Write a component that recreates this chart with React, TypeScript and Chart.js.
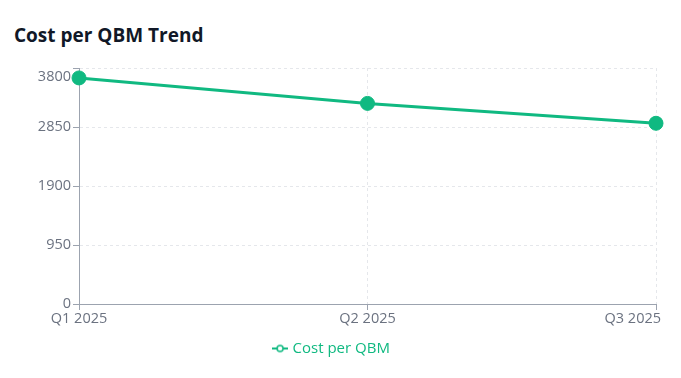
import React, { useEffect, useRef } from "react";
import { Chart, registerables } from "chart.js";

Chart.register(...registerables);

const categories = ["Q1 2025", "Q2 2025", "Q3 2025"];
const costPerQbm = [3640, 3230, 2910];
const yTickValues = [0, 950, 1900, 2850, 3800];
const seriesName = "Cost per QBM";
const titleText = "Cost per QBM Trend";

const GREEN = "#10b981";
const LABEL_GRAY = "#6b7280";
const AXIS_GRAY = "#9ca3af";
const GRID_GRAY = "#e5e7eb";
const FONT = '"Open Sans", "Noto Sans", sans-serif';

function makeLegendIcon(): HTMLCanvasElement {
  const c = document.createElement("canvas");
  c.width = 16;
  c.height = 10;
  const g = c.getContext("2d")!;
  g.strokeStyle = GREEN;
  g.lineWidth = 2;
  g.beginPath();
  g.moveTo(0, 5);
  g.lineTo(16, 5);
  g.stroke();
  g.fillStyle = "#fff";
  g.lineWidth = 1.5;
  g.beginPath();
  g.arc(8, 5, 3, 0, Math.PI * 2);
  g.fill();
  g.stroke();
  return c;
}

const tickLabelsPlugin = {
  id: "tickLabels",
  afterDraw(chart: any) {
    const { ctx, chartArea } = chart;
    const xs = chart.scales.x;
    const ys = chart.scales.y;
    ctx.save();
    ctx.font = `14.5px ${FONT}`;
    ctx.fillStyle = LABEL_GRAY;
    ctx.textBaseline = "middle";
    ctx.textAlign = "left";
    xs.ticks.forEach((t: any, i: number) => {
      const label = String(xs.getLabelForValue(t.value));
      const px = xs.getPixelForTick(i);
      const w = ctx.measureText(label).width;
      let left = px - w / 2;
      left = Math.min(left, chart.width - 20 - w);
      left = Math.max(left, 0);
      ctx.fillText(label, left, chartArea.bottom + 15);
    });
    ctx.textAlign = "right";
    ys.ticks.forEach((t: any) => {
      const py = ys.getPixelForValue(t.value);
      const cy = Math.max(py, chartArea.top + 9);
      ctx.fillText(String(t.value), chartArea.left - 8, cy);
    });
    ctx.restore();
  },
};

export default function App() {
  const ref = useRef<HTMLCanvasElement | null>(null);

  useEffect(() => {
    if (!ref.current) return;
    const icon = makeLegendIcon();
    const chart = new Chart(ref.current, {
      type: "line",
      data: {
        labels: categories,
        datasets: [
          {
            label: seriesName,
            data: costPerQbm,
            borderColor: GREEN,
            backgroundColor: GREEN,
            borderWidth: 3,
            pointRadius: 7,
            pointHoverRadius: 7,
            pointBorderWidth: 1,
            pointBackgroundColor: GREEN,
            pointBorderColor: GREEN,
            tension: 0,
            fill: false,
            clip: false as any,
          },
        ],
      },
      options: {
        animation: false,
        responsive: true,
        maintainAspectRatio: false,
        layout: { padding: { top: 18, right: 25, bottom: 12, left: 9 } },
        scales: {
          x: {
            offset: false,
            ticks: { display: false },
            grid: {
              color: GRID_GRAY,
              tickColor: AXIS_GRAY,
              tickLength: 6,
              tickBorderDash: [],
              drawTicks: true,
            } as any,
            border: { color: AXIS_GRAY, width: 1, dash: [3, 3] },
            afterFit: (s: any) => {
              s.height = 24;
            },
          },
          y: {
            min: 0,
            max: 3800,
            ticks: { display: false },
            afterBuildTicks: (s: any) => {
              s.ticks = yTickValues.map((v) => ({ value: v }));
            },
            grid: {
              color: GRID_GRAY,
              tickColor: AXIS_GRAY,
              tickLength: 6,
              tickBorderDash: [],
              drawTicks: true,
            } as any,
            border: { color: AXIS_GRAY, width: 1, dash: [3, 3] },
            afterFit: (s: any) => {
              s.width = 70;
            },
          },
        },
        plugins: {
          title: { display: false },
          tooltip: { enabled: false },
          legend: {
            display: true,
            position: "bottom",
            labels: {
              usePointStyle: true,
              pointStyle: icon as any,
              pointStyleWidth: 10,
              color: GREEN,
              padding: 13,
              font: { size: 15, family: FONT },
            },
          },
        },
      },
      plugins: [tickLabelsPlugin],
    });
    return () => chart.destroy();
  }, []);

  return (
    <div
      style={{
        position: "fixed",
        left: 0,
        top: 0,
        width: 681,
        height: 378,
        background: "#fff",
      }}
    >
      <div
        style={{
          position: "absolute",
          left: 14,
          top: 22,
          font: `bold 19px ${FONT}`,
          color: "#111827",
          whiteSpace: "nowrap",
        }}
      >
        {titleText}
      </div>
      <div
        style={{
          position: "absolute",
          left: 0,
          top: 50,
          width: 681,
          height: 328,
        }}
      >
        <canvas ref={ref} />
      </div>
    </div>
  );
}
